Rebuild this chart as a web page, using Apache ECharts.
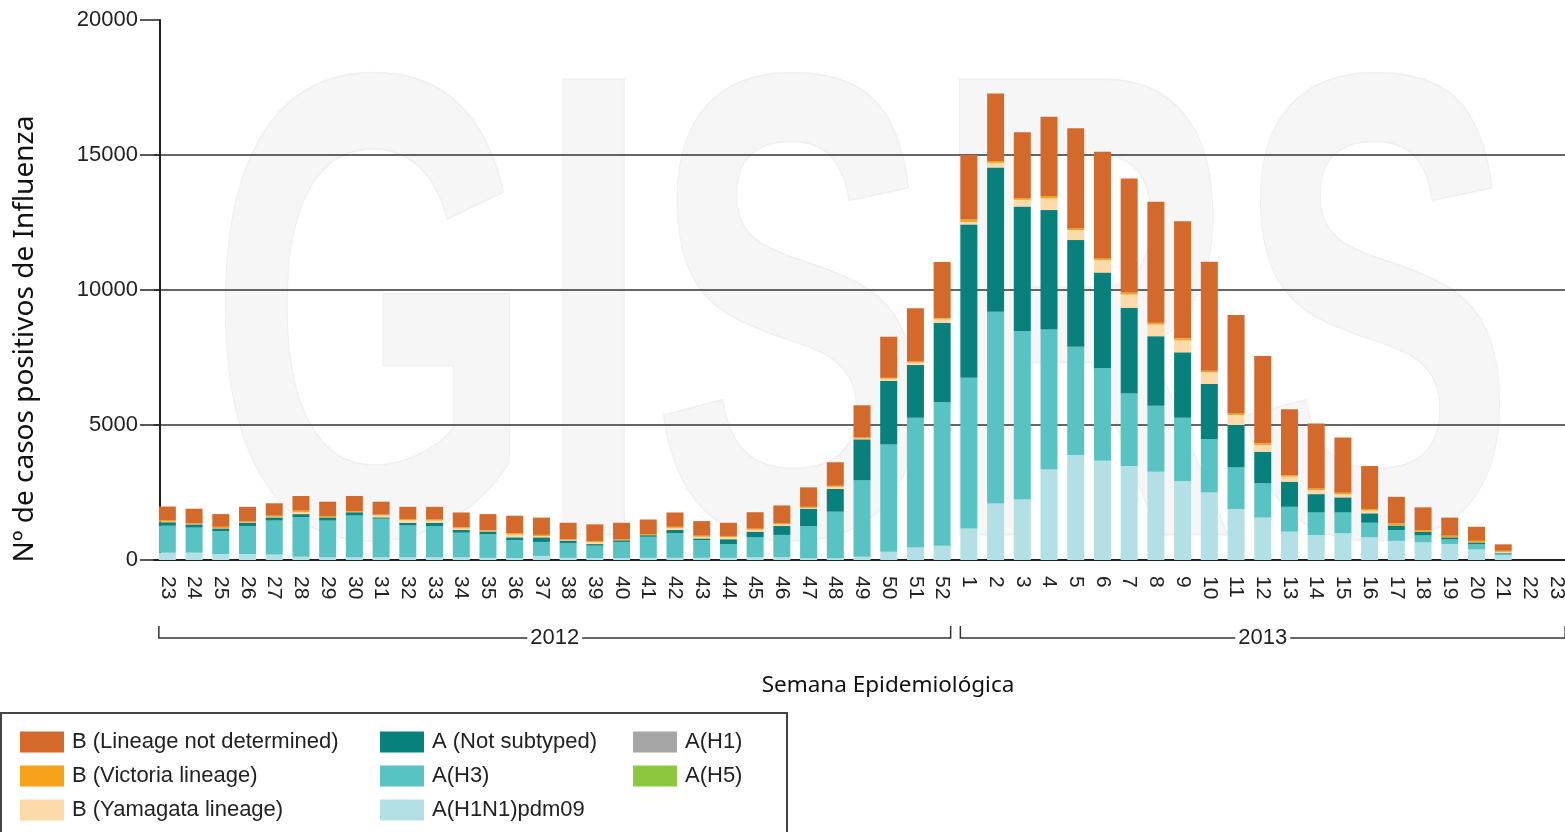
<!DOCTYPE html>
<html>
<head>
<meta charset="utf-8">
<script src="https://cdn.jsdelivr.net/npm/echarts@6/dist/echarts.min.js"></script>
<style>
    html, body { margin: 0; padding: 0; background: #fff; overflow: hidden; }
    #chart { width: 1580px; height: 832px; }
</style>
</head>
<body>
<div id="chart"></div>
<script>
// epidemiological weeks: 2012 wk 23-52, 2013 wk 1-23
const weeks2012 = [23, 24, 25, 26, 27, 28, 29, 30, 31, 32, 33, 34, 35, 36, 37, 38, 39, 40, 41, 42, 43, 44, 45, 46, 47, 48, 49, 50, 51, 52];
const weeks2013 = [1, 2, 3, 4, 5, 6, 7, 8, 9, 10, 11, 12, 13, 14, 15, 16, 17, 18, 19, 20, 21, 22, 23];

// values (stack order bottom -> top)
const pdm09 = [270, 270, 220, 220, 200, 120, 100, 100, 100, 100, 100, 100, 80, 70, 150, 80, 70, 70, 80, 80, 80, 80, 100, 100, 60, 60, 120, 310, 460, 530,
    1170, 2090, 2240, 3350, 3890, 3680, 3480, 3270, 2930, 2500, 1890, 1570, 1050, 920, 990, 840, 710, 650, 590, 390, 180, 0, 0];
const h3 = [1000, 930, 850, 1040, 1260, 1470, 1360, 1550, 1430, 1180, 1160, 910, 870, 670, 520, 540, 460, 600, 780, 910, 660, 510, 740, 830, 1200, 1730, 2840, 3970, 4810, 5310,
    5580, 7100, 6240, 5190, 4010, 3420, 2690, 2440, 2340, 1980, 1540, 1270, 920, 840, 770, 540, 400, 260, 170, 190, 60, 0, 0];
const notSubtyped = [130, 120, 100, 120, 120, 110, 120, 120, 50, 100, 120, 100, 110, 100, 170, 100, 60, 60, 60, 120, 60, 180, 210, 330, 640, 840, 1510, 2360, 1950, 2950,
    5680, 5350, 4610, 4420, 3950, 3550, 3170, 2580, 2420, 2040, 1570, 1170, 930, 680, 560, 350, 170, 140, 80, 70, 30, 0, 0];
const h1 = []; // no cases
const h5 = []; // no cases
const yamagata = [20, 10, 10, 10, 20, 70, 10, 10, 70, 100, 80, 60, 20, 100, 40, 20, 70, 0, 0, 80, 60, 80, 70, 60, 30, 80, 30, 70, 90, 120,
    90, 170, 250, 430, 370, 460, 490, 430, 450, 430, 370, 250, 190, 150, 110, 100, 10, 0, 0, 0, 30, 0, 0];
const victoria = [60, 30, 50, 40, 40, 60, 40, 30, 30, 40, 40, 40, 30, 50, 50, 30, 40, 40, 40, 40, 40, 40, 40, 40, 40, 40, 40, 40, 40, 40,
    90, 70, 60, 90, 60, 60, 80, 70, 70, 60, 60, 60, 60, 60, 60, 60, 70, 60, 60, 60, 40, 0, 0];
const lineageNd = [500, 540, 470, 540, 460, 540, 530, 560, 480, 450, 470, 550, 590, 650, 640, 610, 620, 610, 540, 530, 540, 490, 610, 660, 720, 870, 1190, 1520, 1970, 2090,
    2390, 2500, 2440, 2940, 3710, 3950, 4220, 4480, 4340, 4040, 3640, 3240, 2430, 2410, 2050, 1590, 980, 840, 670, 520, 240, 0, 0];

const categories = weeks2012.map(w => '2012-' + w).concat(weeks2013.map(w => '2013-' + w));

const font = 'Liberation Sans';
const dark = '#222';
const barWidth = 17;

function bar(name, data, color) {
    return { name: name, type: 'bar', stack: 'total', data: data, barWidth: barWidth, itemStyle: { color: color } };
}

const chart = echarts.init(document.getElementById('chart'));
chart.setOption({
    animation: false,
    grid: { left: 154, top: 20, width: 1416, height: 540 },
    xAxis: {
        type: 'category',
        data: categories,
        boundaryGap: true,
        axisLine: { lineStyle: { color: dark, width: 2 } },
        axisTick: { alignWithLabel: true, interval: 0, length: 11, lineStyle: { color: dark, width: 1.5 } },
        axisLabel: {
            interval: 0, rotate: -90, margin: 16, fontSize: 21, fontFamily: font, color: dark,
            formatter: v => v.split('-')[1]
        }
    },
    yAxis: {
        type: 'value', min: 0, max: 20000, interval: 5000, offset: -6,
        axisLine: { show: true, lineStyle: { color: dark, width: 2 } },
        axisTick: { show: true, length: 20, lineStyle: { color: dark, width: 1.5 } },
        axisLabel: { fontSize: 22, fontFamily: font, color: dark, margin: 22, formatter: v => String(v) },
        splitLine: { show: true, showMaxLine: false, showMinLine: false, lineStyle: { color: '#333', width: 1.5 } }
    },
    legend: [
        { data: ['B (Lineage not determined)', 'B (Victoria lineage)', 'B (Yamagata lineage)'], left: 20 },
        { data: ['A (Not subtyped)', 'A(H3)', 'A(H1N1)pdm09'], left: 380 },
        { data: ['A(H1)', 'A(H5)'], left: 633 }
    ].map(l => Object.assign(l, {
        top: 731, orient: 'vertical', icon: 'rect', itemWidth: 44, itemHeight: 21, itemGap: 12,
        selectedMode: false, padding: 0,
        textStyle: { fontSize: 22, fontFamily: font, color: dark, padding: [0, 0, 0, 3] }
    })),
    series: [
        bar('A(H1N1)pdm09', pdm09, '#b3e0e4'),
        bar('A(H3)', h3, '#59c3c3'),
        bar('A (Not subtyped)', notSubtyped, '#08807b'),
        bar('A(H1)', h1, '#a6a6a6'),
        bar('A(H5)', h5, '#8dc63f'),
        bar('B (Yamagata lineage)', yamagata, '#fddaa9'),
        bar('B (Victoria lineage)', victoria, '#f7a21b'),
        bar('B (Lineage not determined)', lineageNd, '#d3692a')
    ]
});

// year brackets under the week labels, placed from the category axis
const half = barWidth / 2;
const px = i => chart.convertToPixel({ xAxisIndex: 0 }, categories[i]);
const yearBrackets = [
    { year: '2012', from: 0, to: weeks2012.length - 1 },
    { year: '2013', from: weeks2012.length, to: categories.length - 1 }
];
const graphics = [
    {
        type: 'text', z: -10, x: 862, y: 352, scaleY: 1.57,
        style: { text: 'GISRS', font: 'bold 420px ' + font, fill: '#f6f6f6', stroke: '#efefef', lineWidth: 2, align: 'center', verticalAlign: 'middle' }
    },
    {
        type: 'text', x: 25, y: 339, rotation: Math.PI / 2,
        style: { text: 'Nº de casos positivos de Influenza', font: '28px "Noto Sans"', fill: '#111', align: 'center', verticalAlign: 'middle' }
    },
    {
        type: 'text', x: 888, y: 686,
        style: { text: 'Semana Epidemiológica', font: '22.5px "Noto Sans"', fill: '#111', align: 'center', verticalAlign: 'middle' }
    },
    {
        type: 'rect', shape: { x: 1, y: 713, width: 786, height: 140 },
        style: { fill: 'none', stroke: '#444', lineWidth: 2 }
    }
];
yearBrackets.forEach(b => {
    const x1 = px(b.from) - half;
    const x2 = px(b.to) + half;
    graphics.push({
        type: 'polyline', shape: { points: [[x1, 626], [x1, 638], [x2, 638], [x2, 626]] },
        style: { fill: 'none', stroke: '#333', lineWidth: 1.5 }
    });
    graphics.push({
        type: 'text', x: (x1 + x2) / 2, y: 638, z: 10,
        style: { text: b.year, font: '22px ' + font, fill: dark, align: 'center', verticalAlign: 'middle', backgroundColor: '#fff', padding: [0, 3] }
    });
});
chart.setOption({ graphic: graphics });
</script>
</body>
</html>
